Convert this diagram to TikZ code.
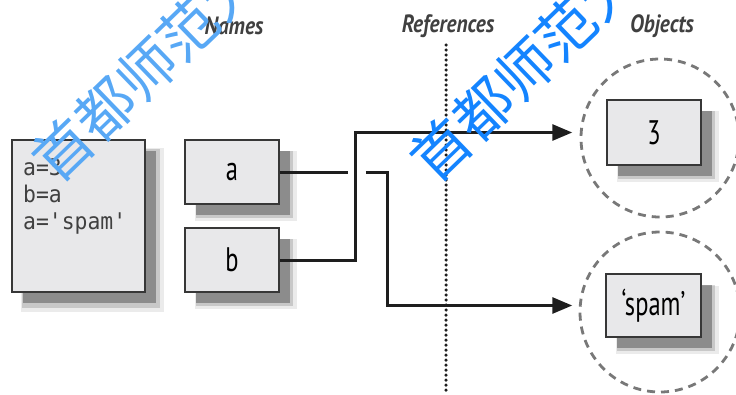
\documentclass[tikz,border=0pt]{standalone}
\usepackage{fontspec}
\usetikzlibrary{arrows.meta,shadows}
\newfontfamily\headfont{PT Sans}[FakeStretch=0.85]
\newfontfamily\boxfont{PT Sans}[FakeStretch=0.72]
\newfontfamily\codefont{DejaVu Sans Mono}[Ligatures=TeXOff,FakeStretch=0.93]
\newfontfamily\cjk{Noto Sans CJK SC}
\definecolor{boxgray}{RGB}{232,232,234}
\definecolor{edge}{RGB}{55,55,55}
\definecolor{ink}{RGB}{30,30,30}
\definecolor{ringgray}{RGB}{120,120,120}
\definecolor{mark}{RGB}{20,132,255}
\definecolor{marklight}{RGB}{88,168,245}

\begin{document}
\begin{tikzpicture}[x=1pt,y=-1pt,
    valbox/.style={draw=edge,line width=1.5pt,fill=boxgray,inner sep=0pt,
      drop shadow={shadow xshift=13pt,shadow yshift=-13pt,opacity=.08,fill=black,shadow scale=1.08},
      drop shadow={shadow xshift=12pt,shadow yshift=-12pt,opacity=.15,fill=black,shadow scale=1.04},
      drop shadow={shadow xshift=11pt,shadow yshift=-11pt,opacity=.3,fill=black}},
    head/.style={text=ink!85,font=\headfont\bfseries\itshape\fontsize{25}{25}\selectfont},
    ring/.style={circle,draw=ringgray,line width=2.8pt,dash pattern=on 8pt off 6pt,minimum size=#1,inner sep=0pt},
    ref/.style={draw=ink,line width=3pt,-{Triangle[length=20pt,width=16pt]}},
    wmark/.style={font=\cjk\fontsize{58}{58}\selectfont,rotate=44,anchor=west,inner sep=0pt}]

    \useasboundingbox (0,0) rectangle (736,394);

    \node[head] (N) at (234,26) {Names};
    \node[head] (R) at (448,26) {References};
    \node[head] (O) at (662,26) {Objects};

    \coordinate (Rt) at (446,45);
    \coordinate (Rb) at (446,394);
    \draw[ink,line width=3.5pt,line cap=round,dash pattern=on 0pt off 5pt] (Rt) -- (Rb);

    \node[valbox,minimum width=133pt,minimum height=152pt] (P) at (78.5,216) {};
    \node[anchor=north west,align=left,inner sep=0pt,text=ink!85,
      font=\codefont\fontsize{23}{27}\selectfont] (C) at (23,158) {a=3\\b=a\\a='spam'};

    \node[valbox,minimum width=94pt,minimum height=64pt,font=\boxfont\fontsize{34}{34}\selectfont] (A) at (232,172) {a};
    \node[valbox,minimum width=94pt,minimum height=64pt,font=\boxfont\fontsize{34}{34}\selectfont] (B) at (232,260) {b};

    \node[ring=158pt] (RT) at (660,138) {};
    \node[ring=160pt] (RS) at (660,312) {};
    \node[valbox,minimum width=94pt,minimum height=65pt,font=\boxfont\fontsize{34}{34}\selectfont] (T) at (654,132.5) {3};
    \node[valbox,minimum width=95pt,minimum height=63pt,font=\boxfont\fontsize{34}{34}\selectfont] (S) at (653.5,305.5) {‘spam’};

    \coordinate (gapL) at ([xshift=68pt]A.east);
    \coordinate (gapR) at ([xshift=86pt]A.east);

    \draw[ref,-] (A.east) -- (gapL);
    \draw[ref,shorten >=33pt] (gapR) -- ++(22,0) |- (S.west);
    \draw[ref,shorten >=34pt] (B.east) -- ++(76,0) |- (T.west);

    \node[wmark,text=marklight] (W1) at (42,170) {首都师范大学};
    \node[wmark,text=mark] (W2) at (420,170) {首都师范大学};

\end{tikzpicture}
\end{document}
